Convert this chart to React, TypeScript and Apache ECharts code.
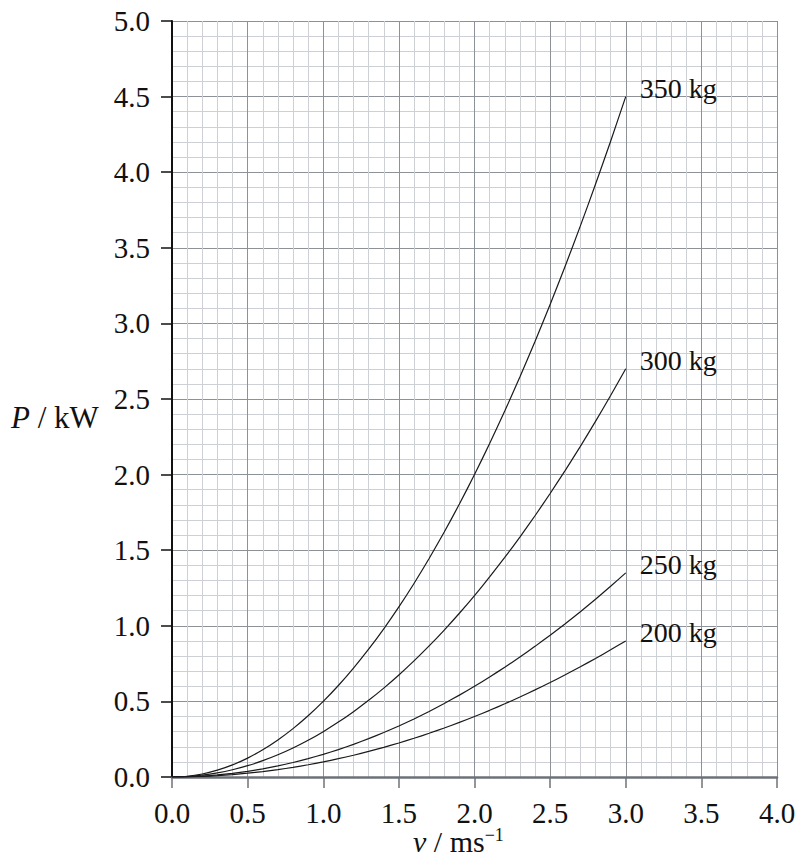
import React, { useEffect, useRef } from "react";
import * as echarts from "echarts";

const speeds = [
  0, 0.1, 0.2, 0.3, 0.4, 0.5, 0.6, 0.7, 0.8, 0.9, 1.0, 1.1, 1.2, 1.3, 1.4, 1.5,
  1.6, 1.7, 1.8, 1.9, 2.0, 2.1, 2.2, 2.3, 2.4, 2.5, 2.6, 2.7, 2.8, 2.9, 3.0,
];
const power350 = [
  0, 0.005, 0.02, 0.045, 0.08, 0.125, 0.18, 0.245, 0.32, 0.405, 0.5, 0.605, 0.72, 0.845, 0.98, 1.125,
  1.28, 1.445, 1.62, 1.805, 2.0, 2.205, 2.42, 2.645, 2.88, 3.125, 3.38, 3.645, 3.92, 4.205, 4.5,
];
const power300 = [
  0, 0.003, 0.012, 0.027, 0.048, 0.075, 0.108, 0.147, 0.192, 0.243, 0.3, 0.363, 0.432, 0.507, 0.588, 0.675,
  0.768, 0.867, 0.972, 1.083, 1.2, 1.323, 1.452, 1.587, 1.728, 1.875, 2.028, 2.187, 2.352, 2.523, 2.7,
];
const power250 = [
  0, 0.0015, 0.006, 0.0135, 0.024, 0.0375, 0.054, 0.0735, 0.096, 0.1215, 0.15, 0.1815, 0.216, 0.2535, 0.294, 0.3375,
  0.384, 0.4335, 0.486, 0.5415, 0.6, 0.6615, 0.726, 0.7935, 0.864, 0.9375, 1.014, 1.0935, 1.176, 1.2615, 1.35,
];
const power200 = [
  0, 0.001, 0.004, 0.009, 0.016, 0.025, 0.036, 0.049, 0.064, 0.081, 0.1, 0.121, 0.144, 0.169, 0.196, 0.225,
  0.256, 0.289, 0.324, 0.361, 0.4, 0.441, 0.484, 0.529, 0.576, 0.625, 0.676, 0.729, 0.784, 0.841, 0.9,
];
const seriesNames = ["350 kg", "300 kg", "250 kg", "200 kg"];
const seriesValues = [power350, power300, power250, power200];

const FONT = "'Liberation Serif', 'Times New Roman', Times, serif";

export default function App() {
  const ref = useRef<HTMLDivElement>(null);
  useEffect(() => {
    if (!ref.current) return;
    const chart = echarts.init(ref.current, null, { renderer: "svg" });
    const majorColor = "#8d9299";
    const minorColor = "#cdd0d5";
    chart.setOption({
      animation: false,
      backgroundColor: "#ffffff",
      textStyle: { fontFamily: FONT },
      grid: { left: 172, top: 21, width: 605, height: 756, containLabel: false },
      xAxis: {
        type: "value",
        min: 0,
        max: 4,
        interval: 0.5,
        axisLine: { show: true, onZero: false, lineStyle: { color: "#6e7277", width: 2.5 } },
        axisTick: { show: true, length: 11, lineStyle: { color: "#6e7277", width: 1.5 } },
        axisLabel: {
          margin: 21,
          fontFamily: FONT,
          fontSize: 29,
          color: "#111",
          formatter: (v: number) => v.toFixed(1),
        },
        splitLine: { show: true, lineStyle: { color: majorColor, width: 1 } },
        minorTick: { show: false, splitNumber: 5 },
        minorSplitLine: { show: true, lineStyle: { color: minorColor, width: 1 } },
      },
      yAxis: {
        type: "value",
        min: 0,
        max: 5,
        interval: 0.5,
        axisLine: { show: true, onZero: false, lineStyle: { color: "#111", width: 2 } },
        axisTick: { show: true, length: 11, lineStyle: { color: "#111", width: 1.5 } },
        axisLabel: {
          margin: 22,
          fontFamily: FONT,
          fontSize: 29,
          color: "#111",
          padding: [12, 0, 0, 0],
          formatter: (v: number) => v.toFixed(1),
        },
        splitLine: { show: true, lineStyle: { color: majorColor, width: 1 } },
        minorTick: { show: false, splitNumber: 5 },
        minorSplitLine: { show: true, lineStyle: { color: minorColor, width: 1 } },
      },
      graphic: [
        {
          type: "text",
          left: 11,
          top: 402,
          style: {
            text: "{i|P} / kW",
            fontFamily: FONT,
            fontSize: 31,
            fill: "#111",
            rich: {
              i: { fontFamily: FONT, fontSize: 31, fontStyle: "italic", fill: "#111" },
            },
          },
        },
        {
          type: "text",
          left: 413,
          top: 826,
          style: {
            text: "{i|v} / ms{s|−1}",
            fontFamily: FONT,
            fontSize: 30,
            fill: "#111",
            rich: {
              i: { fontFamily: FONT, fontSize: 30, fontStyle: "italic", fill: "#111" },
              s: { fontFamily: FONT, fontSize: 18, fill: "#111", verticalAlign: "top" },
            },
          },
        },
      ],
      series: seriesNames.map((name, k) => ({
        name,
        type: "line",
        smooth: 0.2,
        showSymbol: false,
        symbol: "none",
        data: speeds.map((v, i) => [v, seriesValues[k][i]]),
        lineStyle: { color: "#1a1a1a", width: 1.2 },
        endLabel: {
          show: true,
          formatter: "{a}",
          distance: 14,
          offset: [0, -8],
          fontFamily: FONT,
          fontSize: 28,
          color: "#111",
        },
        z: 5,
      })),
    });
    return () => chart.dispose();
  }, []);
  return (
    <div
      ref={ref}
      style={{ position: "absolute", left: 0, top: 0, width: 800, height: 861 }}
    />
  );
}
